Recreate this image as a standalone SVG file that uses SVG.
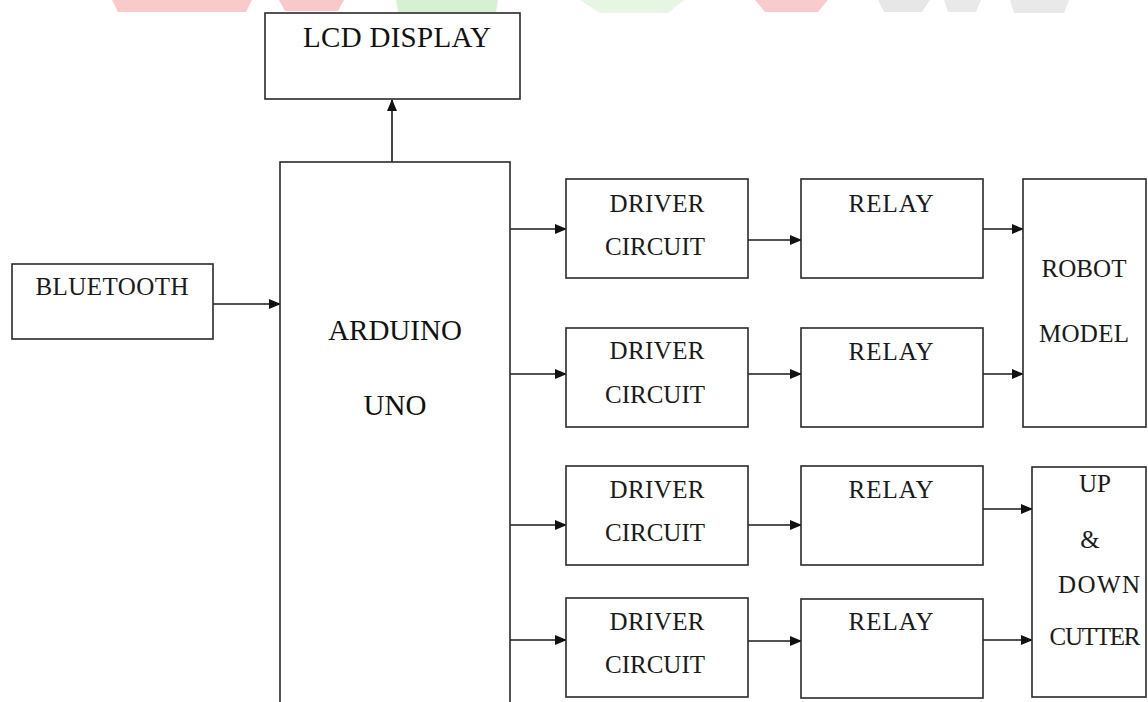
<svg xmlns="http://www.w3.org/2000/svg" width="1148" height="702" viewBox="0 0 1148 702">
<style>
.box{fill:#fff;stroke:#2a2a2a;stroke-width:1.6}
.tr{font-family:"Liberation Serif",serif;font-size:29px;fill:#111;text-anchor:middle}
.mo{font-family:"Liberation Serif",serif;font-size:25px;fill:#1a1a1a;text-anchor:middle}
.ln{stroke:#1a1a1a;stroke-width:1.6;fill:none}
.wm{opacity:0.45}
</style>
<defs>
<marker id="ah" markerUnits="userSpaceOnUse" markerWidth="12" markerHeight="10" refX="11" refY="5" orient="auto">
<path d="M0,0 L12,5 L0,10 z" fill="#111"/>
</marker>
</defs>
<rect width="1148" height="702" fill="#fff"/>
<g id="watermark" class="wm">
<path d="M112,0 L252,0 L246,12 L118,12 z" fill="#f08a8a"/>
<path d="M279,0 L344,0 L338,11 L285,11 z" fill="#f08a8a"/>
<path d="M396,0 L498,0 L496,12 L398,12 z" fill="#a8e0a0"/>
<path d="M580,0 L684,0 L668,13 L600,13 z" fill="#c8ecc0"/>
<path d="M755,0 L828,0 L818,12 L765,12 z" fill="#f09090"/>
<path d="M878,0 L930,0 L922,12 L884,12 z" fill="#cccccc"/>
<path d="M944,0 L981,0 L976,12 L948,12 z" fill="#d0d0d0"/>
<path d="M1010,0 L1069,0 L1064,13 L1014,13 z" fill="#cfcfcf"/>
</g>
<g id="connectors">
<line class="ln" x1="392" y1="162" x2="392" y2="100" marker-end="url(#ah)"/>
<line class="ln" x1="213" y1="304" x2="280" y2="304" marker-end="url(#ah)"/>
<line class="ln" x1="510" y1="229" x2="566" y2="229" marker-end="url(#ah)"/>
<line class="ln" x1="510" y1="374" x2="566" y2="374" marker-end="url(#ah)"/>
<line class="ln" x1="510" y1="525" x2="566" y2="525" marker-end="url(#ah)"/>
<line class="ln" x1="510" y1="640" x2="566" y2="640" marker-end="url(#ah)"/>
<line class="ln" x1="748" y1="240" x2="801" y2="240" marker-end="url(#ah)"/>
<line class="ln" x1="748" y1="374" x2="801" y2="374" marker-end="url(#ah)"/>
<line class="ln" x1="748" y1="525" x2="801" y2="525" marker-end="url(#ah)"/>
<line class="ln" x1="748" y1="641" x2="801" y2="641" marker-end="url(#ah)"/>
<line class="ln" x1="983" y1="229" x2="1023" y2="229" marker-end="url(#ah)"/>
<line class="ln" x1="983" y1="374" x2="1023" y2="374" marker-end="url(#ah)"/>
<line class="ln" x1="983" y1="509" x2="1032" y2="509" marker-end="url(#ah)"/>
<line class="ln" x1="983" y1="640" x2="1032" y2="640" marker-end="url(#ah)"/>
</g>
<g id="lcd"><rect class="box" x="265" y="13" width="255" height="86"/><text class="tr" x="397" y="47" textLength="188">LCD DISPLAY</text></g>
<g id="arduino"><rect class="box" x="280" y="162" width="230" height="560"/><text class="tr" x="395" y="340">ARDUINO</text><text class="tr" x="395" y="415">UNO</text></g>
<g id="bluetooth"><rect class="box" x="12" y="264" width="201" height="75"/><text class="mo" x="112" y="295" textLength="153">BLUETOOTH</text></g>
<g id="driver1"><rect class="box" x="566" y="179" width="182" height="99"/><text class="mo" x="657" y="212" textLength="95">DRIVER</text><text class="mo" x="655" y="255" textLength="100">CIRCUIT</text></g>
<g id="driver2"><rect class="box" x="566" y="328" width="182" height="99"/><text class="mo" x="657" y="359" textLength="95">DRIVER</text><text class="mo" x="655" y="403" textLength="100">CIRCUIT</text></g>
<g id="driver3"><rect class="box" x="566" y="466" width="182" height="99"/><text class="mo" x="657" y="498" textLength="95">DRIVER</text><text class="mo" x="655" y="541" textLength="100">CIRCUIT</text></g>
<g id="driver4"><rect class="box" x="566" y="598" width="182" height="99"/><text class="mo" x="657" y="630" textLength="95">DRIVER</text><text class="mo" x="655" y="673" textLength="100">CIRCUIT</text></g>
<g id="relay1"><rect class="box" x="801" y="179" width="182" height="99"/><text class="mo" x="891" y="212" textLength="85">RELAY</text></g>
<g id="relay2"><rect class="box" x="801" y="328" width="182" height="99"/><text class="mo" x="891" y="360" textLength="85">RELAY</text></g>
<g id="relay3"><rect class="box" x="801" y="466" width="182" height="99"/><text class="mo" x="891" y="498" textLength="85">RELAY</text></g>
<g id="relay4"><rect class="box" x="801" y="599" width="182" height="99"/><text class="mo" x="891" y="630" textLength="85">RELAY</text></g>
<g id="robot"><rect class="box" x="1023" y="179" width="123" height="248"/><text class="mo" x="1084" y="277" textLength="85">ROBOT</text><text class="mo" x="1084" y="342" textLength="90">MODEL</text></g>
<g id="cutter"><rect class="box" x="1032" y="467" width="114" height="230"/><text class="mo" x="1095" y="492" textLength="32">UP</text><text class="mo" x="1090" y="548">&amp;</text><text class="mo" x="1099" y="593" textLength="82">DOWN</text><text class="mo" x="1095" y="645" textLength="91">CUTTER</text></g>
</svg>
